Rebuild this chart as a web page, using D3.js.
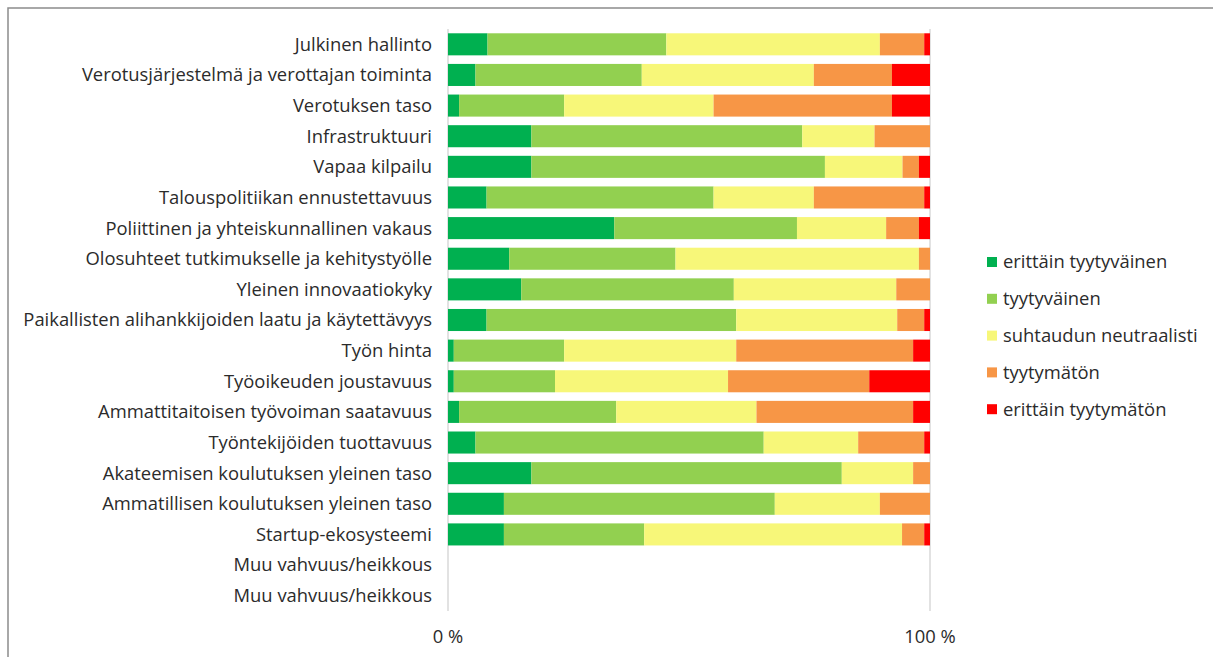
<!DOCTYPE html>
<html>
<head>
<meta charset="utf-8">
<script src="https://cdn.jsdelivr.net/npm/d3@7"></script>
<style>
  body { margin: 0; background: #fff; }
  svg text { font-family: "Open Sans", Lato, sans-serif; fill: #2b2b2b; }
</style>
</head>
<body>
<div id="graph"></div>
<script>
// categories, top to bottom
const categories = [
  'Julkinen hallinto',
  'Verotusjärjestelmä ja verottajan toiminta',
  'Verotuksen taso',
  'Infrastruktuuri',
  'Vapaa kilpailu',
  'Talouspolitiikan ennustettavuus',
  'Poliittinen ja yhteiskunnallinen vakaus',
  'Olosuhteet tutkimukselle ja kehitystyölle',
  'Yleinen innovaatiokyky',
  'Paikallisten alihankkijoiden laatu ja käytettävyys',
  'Työn hinta',
  'Työoikeuden joustavuus',
  'Ammattitaitoisen työvoiman saatavuus',
  'Työntekijöiden tuottavuus',
  'Akateemisen koulutuksen yleinen taso',
  'Ammatillisen koulutuksen yleinen taso',
  'Startup-ekosysteemi',
  'Muu vahvuus/heikkous',
  'Muu vahvuus/heikkous ',
];

const seriesNames = [
  'erittäin tyytyväinen',
  'tyytyväinen',
  'suhtaudun neutraalisti',
  'tyytymätön',
  'erittäin tyytymätön',
];

// percent shares per category (same order as categories)
const veryHappy = [8.2, 5.7, 2.3, 17.3, 17.3, 8.0, 34.5, 12.7, 15.2, 8.0, 1.2, 1.2, 2.3, 5.7, 17.3, 11.6, 11.6, 0, 0];
const happy = [37.1, 34.5, 21.8, 56.2, 60.9, 47.1, 37.9, 34.5, 44.1, 51.8, 22.9, 21.0, 32.6, 59.8, 64.4, 56.2, 29.1, 0, 0];
const neutral = [44.3, 35.7, 31.0, 15.0, 16.1, 20.8, 18.5, 50.5, 33.7, 33.4, 35.7, 35.9, 29.1, 19.6, 14.8, 21.8, 53.5, 0, 0];
const unhappy = [9.2, 16.2, 37.0, 11.5, 3.4, 22.9, 6.8, 2.3, 7.0, 5.6, 36.7, 29.3, 32.5, 13.7, 3.5, 10.4, 4.6, 0, 0];
const veryUnhappy = [1.2, 7.9, 7.9, 0, 2.3, 1.2, 2.3, 0, 0, 1.2, 3.5, 12.6, 3.5, 1.2, 0, 0, 1.2, 0, 0];

const tickValues = [0, 100];
const tickLabels = ['0 %', '100 %'];

const colors = ['#00b050', '#92d050', '#f7f779', '#f79646', '#ff0000'];

const width = 1213;
const height = 657;
const margin = { left: 448, right: 283, top: 29, bottom: 46 };
const fontSize = '18.4px';

const svg = d3.select('#graph')
  .append('svg')
  .attr('width', width)
  .attr('height', height);

// frame
svg.append('rect')
  .attr('x', 8)
  .attr('y', 8)
  .attr('width', width + 10)
  .attr('height', height + 10)
  .attr('fill', 'none')
  .attr('stroke', '#8c8c8c')
  .attr('stroke-width', 1.5);

const x = d3.scaleLinear()
  .domain([0, 100])
  .range([margin.left, width - margin.right]);

const y = d3.scaleBand()
  .domain(categories)
  .range([margin.top, height - margin.bottom])
  .paddingInner(0.28)
  .paddingOuter(0.14);

// build rows for stack
const rows = categories.map((c, i) => ({
  category: c,
  [seriesNames[0]]: veryHappy[i],
  [seriesNames[1]]: happy[i],
  [seriesNames[2]]: neutral[i],
  [seriesNames[3]]: unhappy[i],
  [seriesNames[4]]: veryUnhappy[i],
}));

const stacked = d3.stack().keys(seriesNames)(rows);

// gridlines
svg.append('g')
  .selectAll('line')
  .data(tickValues)
  .join('line')
  .attr('x1', (d) => x(d))
  .attr('x2', (d) => x(d))
  .attr('y1', margin.top)
  .attr('y2', height - margin.bottom)
  .attr('stroke', '#d9d9d9')
  .attr('stroke-width', 1.5);

// bars
svg.append('g')
  .selectAll('g')
  .data(stacked)
  .join('g')
  .attr('fill', (d, i) => colors[i])
  .selectAll('rect')
  .data((d) => d)
  .join('rect')
  .attr('x', (d) => x(d[0]))
  .attr('y', (d) => y(d.data.category))
  .attr('width', (d) => x(d[1]) - x(d[0]))
  .attr('height', y.bandwidth());

// category labels
svg.append('g')
  .selectAll('text')
  .data(categories)
  .join('text')
  .attr('x', margin.left - 16)
  .attr('y', (d) => y(d) + y.bandwidth() / 2)
  .attr('dy', '0.35em')
  .attr('text-anchor', 'end')
  .style('font-size', fontSize)
  .text((d) => d.trim());

// x tick labels
svg.append('g')
  .selectAll('text')
  .data(tickValues)
  .join('text')
  .attr('x', (d) => x(d))
  .attr('y', 637)
  .attr('dy', '0.35em')
  .attr('text-anchor', 'middle')
  .style('font-size', fontSize)
  .text((d, i) => tickLabels[i]);

// legend
const legend = svg.append('g')
  .attr('transform', 'translate(987, 262)');

const legendItem = legend.selectAll('g')
  .data(seriesNames)
  .join('g')
  .attr('transform', (d, i) => `translate(0, ${i * 36.8})`);

legendItem.append('rect')
  .attr('x', 0)
  .attr('y', -5)
  .attr('width', 10)
  .attr('height', 10)
  .attr('fill', (d, i) => colors[i]);

legendItem.append('text')
  .attr('x', 16)
  .attr('y', 0)
  .attr('dy', '0.35em')
  .style('font-size', fontSize)
  .text((d) => d);
</script>
</body>
</html>
